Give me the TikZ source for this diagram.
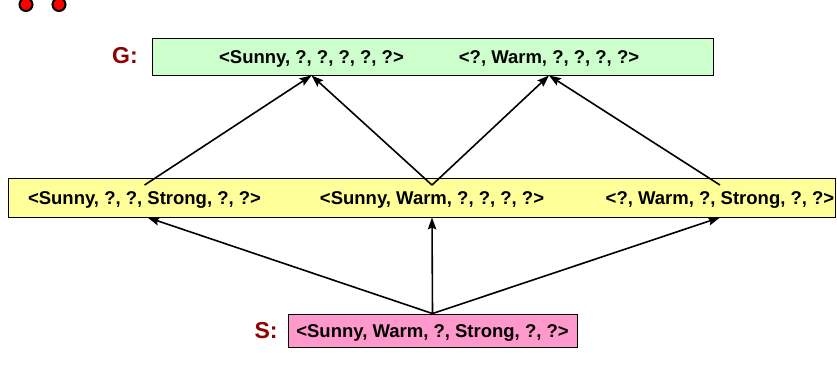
\documentclass[tikz,border=0pt]{standalone}
\usepackage{fontspec}
\setmainfont{Liberation Sans}
\usetikzlibrary{arrows.meta,positioning,calc}
\definecolor{gfill}{HTML}{CCFFCC}
\definecolor{yfill}{HTML}{FFFF99}
\definecolor{sfill}{HTML}{FF99CC}
\definecolor{setred}{HTML}{8B0000}
\definecolor{dotred}{HTML}{FF0000}
\tikzset{
  setbox/.style  = {rectangle, draw=black, line width=0.9pt, inner sep=0pt},
  hyp/.style     = {font=\fontsize{18.5}{20}\selectfont\bfseries, inner sep=0pt,
                    text height=13.5pt, text depth=0pt},
  setlbl/.style  = {font=\fontsize{23}{26}\selectfont\bfseries, text=setred, inner sep=0pt},
  flow/.style    = {-{Stealth[length=12pt,width=8.5pt,inset=2pt]}, line width=1.6pt},
  reddot/.style  = {circle, draw=black, line width=2pt, fill=dotred, minimum size=13pt, inner sep=0pt}
}
\begin{document}
\begin{tikzpicture}[x=1pt,y=-1pt]
    \useasboundingbox (0,0) rectangle (837,367);
    \node[reddot] (d1) at (26,4.5) {};
    \node[reddot] (d2) at (59,4.5) {};
    % G boundary
    \node[setbox, fill=gfill, minimum width=561pt, minimum height=37pt] (gbox) at (432.5,56.5) {};
    \node[setlbl] (glbl) at (125,56) {G:};
    \node[hyp] (g1) at (311.5,57) {<Sunny, ?, ?, ?, ?, ?>};
    \node[hyp] (g2) at (549,57) {<?, Warm, ?, ?, ?, ?>};
    % intermediate hypotheses
    \node[setbox, fill=yfill, minimum width=827pt, minimum height=39pt] (ybox) at (421.5,197.5) {};
    \node[hyp] (y1) at (144.5,198) {<Sunny, ?, ?, Strong, ?, ?>};
    \node[hyp] (y2) at (432,198) {<Sunny, Warm, ?, ?, ?, ?>};
    \node[hyp] (y3) at (720,198) {<?, Warm, ?, Strong, ?, ?>};
    % S boundary
    \node[setbox, fill=sfill, minimum width=289pt, minimum height=33pt] (sbox) at (432.5,330.5) {};
    \node[setlbl] (slbl) at (266,331) {S:};
    \node[hyp] (s1) at (432.5,331) {<Sunny, Warm, ?, Strong, ?, ?>};
    \draw[flow] ([yshift=6pt]y1.north) -- (g1 |- gbox.south);
    \draw[flow] ([yshift=6pt]y2.north) -- (g1 |- gbox.south);
    \draw[flow] ([yshift=6pt]y2.north) -- (g2 |- gbox.south);
    \draw[flow] ([yshift=6pt]y3.north) -- (g2 |- gbox.south);
    \draw[flow] (sbox.north) -- ([xshift=3pt]y1 |- ybox.south);
    \draw[flow] (sbox.north) -- (y2 |- ybox.south);
    \draw[flow] (sbox.north) -- (y3 |- ybox.south);
  \end{tikzpicture}
\end{document}
